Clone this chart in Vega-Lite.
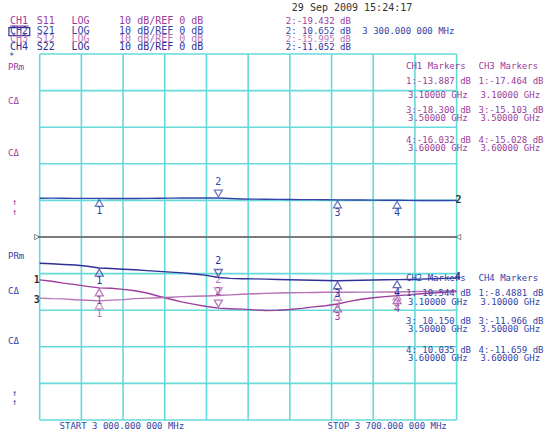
{
  "$schema": "https://vega.github.io/schema/vega-lite/v6.json",
  "width": 544,
  "height": 433,
  "autosize": {"type": "fit", "contains": "padding"},
  "padding": 0,
  "background": "white",
  "config": {
    "view": {"stroke": null},
    "range": {"category": ["#9b3d9b", "#3344a8", "#b573b5", "#2e2e96", "#333333"]},
    "text": {"font": "DejaVu Sans Mono", "align": "left", "baseline": "middle"}
  },
  "datasets": {
    "vgrid": [{"f": 3000, "db": -50, "db2": 50}, {"f": 3070, "db": -50, "db2": 50}, {"f": 3140, "db": -50, "db2": 50}, {"f": 3210, "db": -50, "db2": 50}, {"f": 3280, "db": -50, "db2": 50}, {"f": 3350, "db": -50, "db2": 50}, {"f": 3420, "db": -50, "db2": 50}, {"f": 3490, "db": -50, "db2": 50}, {"f": 3560, "db": -50, "db2": 50}, {"f": 3630, "db": -50, "db2": 50}, {"f": 3700, "db": -50, "db2": 50}],
    "hgrid": [{"db": -50, "f": 3000, "f2": 3700}, {"db": -40, "f": 3000, "f2": 3700}, {"db": -30, "f": 3000, "f2": 3700}, {"db": -20, "f": 3000, "f2": 3700}, {"db": -10, "f": 3000, "f2": 3700}, {"db": 10, "f": 3000, "f2": 3700}, {"db": 20, "f": 3000, "f2": 3700}, {"db": 30, "f": 3000, "f2": 3700}, {"db": 40, "f": 3000, "f2": 3700}, {"db": 50, "f": 3000, "f2": 3700}],
    "tr": [
      {"ch": "CH1", "f": 3000, "db": -11.7}, {"ch": "CH1", "f": 3020, "db": -12.1}, {"ch": "CH1", "f": 3040, "db": -12.6}, {"ch": "CH1", "f": 3060, "db": -13.0}, {"ch": "CH1", "f": 3080, "db": -13.5}, {"ch": "CH1", "f": 3100, "db": -13.887}, {"ch": "CH1", "f": 3120, "db": -14.0}, {"ch": "CH1", "f": 3140, "db": -14.3}, {"ch": "CH1", "f": 3160, "db": -14.7}, {"ch": "CH1", "f": 3180, "db": -15.3}, {"ch": "CH1", "f": 3200, "db": -16.2}, {"ch": "CH1", "f": 3220, "db": -17.0}, {"ch": "CH1", "f": 3240, "db": -17.8}, {"ch": "CH1", "f": 3260, "db": -18.4}, {"ch": "CH1", "f": 3280, "db": -19.0}, {"ch": "CH1", "f": 3300, "db": -19.432}, {"ch": "CH1", "f": 3320, "db": -19.6}, {"ch": "CH1", "f": 3340, "db": -19.7}, {"ch": "CH1", "f": 3360, "db": -19.9}, {"ch": "CH1", "f": 3380, "db": -20.1}, {"ch": "CH1", "f": 3400, "db": -20.0}, {"ch": "CH1", "f": 3420, "db": -19.8}, {"ch": "CH1", "f": 3440, "db": -19.5}, {"ch": "CH1", "f": 3460, "db": -19.1}, {"ch": "CH1", "f": 3480, "db": -18.8}, {"ch": "CH1", "f": 3500, "db": -18.3}, {"ch": "CH1", "f": 3520, "db": -17.6}, {"ch": "CH1", "f": 3540, "db": -17.0}, {"ch": "CH1", "f": 3560, "db": -16.6}, {"ch": "CH1", "f": 3580, "db": -16.3}, {"ch": "CH1", "f": 3600, "db": -16.032}, {"ch": "CH1", "f": 3620, "db": -15.8}, {"ch": "CH1", "f": 3640, "db": -15.5}, {"ch": "CH1", "f": 3660, "db": -15.3}, {"ch": "CH1", "f": 3680, "db": -15.1}, {"ch": "CH1", "f": 3700, "db": -14.9},
      {"ch": "CH2", "f": 3000, "db": 10.6}, {"ch": "CH2", "f": 3020, "db": 10.62}, {"ch": "CH2", "f": 3040, "db": 10.6}, {"ch": "CH2", "f": 3060, "db": 10.55}, {"ch": "CH2", "f": 3080, "db": 10.55}, {"ch": "CH2", "f": 3100, "db": 10.544}, {"ch": "CH2", "f": 3120, "db": 10.52}, {"ch": "CH2", "f": 3140, "db": 10.5}, {"ch": "CH2", "f": 3160, "db": 10.53}, {"ch": "CH2", "f": 3180, "db": 10.56}, {"ch": "CH2", "f": 3200, "db": 10.6}, {"ch": "CH2", "f": 3220, "db": 10.62}, {"ch": "CH2", "f": 3240, "db": 10.64}, {"ch": "CH2", "f": 3260, "db": 10.66}, {"ch": "CH2", "f": 3280, "db": 10.66}, {"ch": "CH2", "f": 3300, "db": 10.652}, {"ch": "CH2", "f": 3320, "db": 10.5}, {"ch": "CH2", "f": 3340, "db": 10.4}, {"ch": "CH2", "f": 3360, "db": 10.35}, {"ch": "CH2", "f": 3380, "db": 10.3}, {"ch": "CH2", "f": 3400, "db": 10.28}, {"ch": "CH2", "f": 3420, "db": 10.25}, {"ch": "CH2", "f": 3440, "db": 10.22}, {"ch": "CH2", "f": 3460, "db": 10.2}, {"ch": "CH2", "f": 3480, "db": 10.18}, {"ch": "CH2", "f": 3500, "db": 10.15}, {"ch": "CH2", "f": 3520, "db": 10.12}, {"ch": "CH2", "f": 3540, "db": 10.1}, {"ch": "CH2", "f": 3560, "db": 10.08}, {"ch": "CH2", "f": 3580, "db": 10.05}, {"ch": "CH2", "f": 3600, "db": 10.035}, {"ch": "CH2", "f": 3620, "db": 10.0}, {"ch": "CH2", "f": 3640, "db": 9.98}, {"ch": "CH2", "f": 3660, "db": 9.97}, {"ch": "CH2", "f": 3680, "db": 9.98}, {"ch": "CH2", "f": 3700, "db": 10.0},
      {"ch": "CH3", "f": 3000, "db": -16.7}, {"ch": "CH3", "f": 3020, "db": -16.85}, {"ch": "CH3", "f": 3040, "db": -16.9}, {"ch": "CH3", "f": 3060, "db": -17.15}, {"ch": "CH3", "f": 3080, "db": -17.3}, {"ch": "CH3", "f": 3100, "db": -17.464}, {"ch": "CH3", "f": 3120, "db": -17.25}, {"ch": "CH3", "f": 3140, "db": -17.1}, {"ch": "CH3", "f": 3160, "db": -16.85}, {"ch": "CH3", "f": 3180, "db": -16.7}, {"ch": "CH3", "f": 3200, "db": -16.6}, {"ch": "CH3", "f": 3220, "db": -16.45}, {"ch": "CH3", "f": 3240, "db": -16.3}, {"ch": "CH3", "f": 3260, "db": -16.2}, {"ch": "CH3", "f": 3280, "db": -16.1}, {"ch": "CH3", "f": 3300, "db": -15.995}, {"ch": "CH3", "f": 3320, "db": -15.8}, {"ch": "CH3", "f": 3340, "db": -15.65}, {"ch": "CH3", "f": 3360, "db": -15.5}, {"ch": "CH3", "f": 3380, "db": -15.4}, {"ch": "CH3", "f": 3400, "db": -15.3}, {"ch": "CH3", "f": 3420, "db": -15.25}, {"ch": "CH3", "f": 3440, "db": -15.2}, {"ch": "CH3", "f": 3460, "db": -15.15}, {"ch": "CH3", "f": 3480, "db": -15.1}, {"ch": "CH3", "f": 3500, "db": -15.103}, {"ch": "CH3", "f": 3520, "db": -15.1}, {"ch": "CH3", "f": 3540, "db": -15.05}, {"ch": "CH3", "f": 3560, "db": -15.05}, {"ch": "CH3", "f": 3580, "db": -15.0}, {"ch": "CH3", "f": 3600, "db": -15.028}, {"ch": "CH3", "f": 3620, "db": -14.95}, {"ch": "CH3", "f": 3640, "db": -14.9}, {"ch": "CH3", "f": 3660, "db": -14.8}, {"ch": "CH3", "f": 3680, "db": -14.75}, {"ch": "CH3", "f": 3700, "db": -14.7},
      {"ch": "CH4", "f": 3000, "db": -7.19}, {"ch": "CH4", "f": 3020, "db": -7.3}, {"ch": "CH4", "f": 3040, "db": -7.5}, {"ch": "CH4", "f": 3060, "db": -7.65}, {"ch": "CH4", "f": 3080, "db": -8.0}, {"ch": "CH4", "f": 3100, "db": -8.4881}, {"ch": "CH4", "f": 3120, "db": -8.6}, {"ch": "CH4", "f": 3140, "db": -8.8}, {"ch": "CH4", "f": 3160, "db": -8.95}, {"ch": "CH4", "f": 3180, "db": -9.2}, {"ch": "CH4", "f": 3200, "db": -9.4}, {"ch": "CH4", "f": 3220, "db": -9.6}, {"ch": "CH4", "f": 3240, "db": -9.8}, {"ch": "CH4", "f": 3260, "db": -10.1}, {"ch": "CH4", "f": 3280, "db": -10.5}, {"ch": "CH4", "f": 3300, "db": -11.052}, {"ch": "CH4", "f": 3320, "db": -11.3}, {"ch": "CH4", "f": 3340, "db": -11.4}, {"ch": "CH4", "f": 3360, "db": -11.45}, {"ch": "CH4", "f": 3380, "db": -11.5}, {"ch": "CH4", "f": 3400, "db": -11.6}, {"ch": "CH4", "f": 3420, "db": -11.7}, {"ch": "CH4", "f": 3440, "db": -11.75}, {"ch": "CH4", "f": 3460, "db": -11.8}, {"ch": "CH4", "f": 3480, "db": -11.9}, {"ch": "CH4", "f": 3500, "db": -11.966}, {"ch": "CH4", "f": 3520, "db": -11.9}, {"ch": "CH4", "f": 3540, "db": -11.8}, {"ch": "CH4", "f": 3560, "db": -11.75}, {"ch": "CH4", "f": 3580, "db": -11.7}, {"ch": "CH4", "f": 3600, "db": -11.659}, {"ch": "CH4", "f": 3620, "db": -11.6}, {"ch": "CH4", "f": 3640, "db": -11.5}, {"ch": "CH4", "f": 3660, "db": -11.4}, {"ch": "CH4", "f": 3680, "db": -11.3}, {"ch": "CH4", "f": 3700, "db": -11.2}
    ],
    "mk": [
      {"ch": "CH1", "m": 1, "f": 3100, "db": -13.887}, {"ch": "CH1", "m": 2, "f": 3300, "db": -19.432}, {"ch": "CH1", "m": 3, "f": 3500, "db": -18.3}, {"ch": "CH1", "m": 4, "f": 3600, "db": -16.032},
      {"ch": "CH2", "m": 1, "f": 3100, "db": 10.544}, {"ch": "CH2", "m": 2, "f": 3300, "db": 10.652}, {"ch": "CH2", "m": 3, "f": 3500, "db": 10.15}, {"ch": "CH2", "m": 4, "f": 3600, "db": 10.035},
      {"ch": "CH3", "m": 1, "f": 3100, "db": -17.464}, {"ch": "CH3", "m": 2, "f": 3300, "db": -15.995}, {"ch": "CH3", "m": 3, "f": 3500, "db": -15.103}, {"ch": "CH3", "m": 4, "f": 3600, "db": -15.028},
      {"ch": "CH4", "m": 1, "f": 3100, "db": -8.4881}, {"ch": "CH4", "m": 2, "f": 3300, "db": -11.052}, {"ch": "CH4", "m": 3, "f": 3500, "db": -11.966}, {"ch": "CH4", "m": 4, "f": 3600, "db": -11.659}
    ],
    "head": [
      {"t": "CH1", "c": "CH1", "f": 2950.0, "db": 58.88}, {"t": "S11", "c": "CH1", "f": 2995.0, "db": 58.88}, {"t": "LOG", "c": "CH1", "f": 3053.3, "db": 58.88}, {"t": "10 dB/REF 0 dB", "c": "CH1", "f": 3133.3, "db": 58.88},
      {"t": "CH2", "c": "CH2", "f": 2950.0, "db": 56.28}, {"t": "S21", "c": "CH2", "f": 2995.0, "db": 56.28}, {"t": "LOG", "c": "CH2", "f": 3053.3, "db": 56.28}, {"t": "10 dB/REF 0 dB", "c": "CH2", "f": 3133.3, "db": 56.28},
      {"t": "CH3", "c": "CH3", "f": 2950.0, "db": 54.1}, {"t": "S12", "c": "CH3", "f": 2995.0, "db": 54.1}, {"t": "LOG", "c": "CH3", "f": 3053.3, "db": 54.1}, {"t": "10 dB/REF 0 dB", "c": "CH3", "f": 3133.3, "db": 54.1},
      {"t": "CH4", "c": "CH4", "f": 2950.0, "db": 51.91}, {"t": "S22", "c": "CH4", "f": 2995.0, "db": 51.91}, {"t": "LOG", "c": "CH4", "f": 3053.3, "db": 51.91}, {"t": "10 dB/REF 0 dB", "c": "CH4", "f": 3133.3, "db": 51.91},
      {"t": "29 Sep 2009  15:24:17", "c": "X", "f": 3423.3, "db": 62.57}
    ],
    "read": [
      {"t": "2:-19.432 dB", "c": "CH1", "f": 3413.3, "db": 58.88},
      {"t": "2: 10.652 dB", "c": "CH2", "f": 3413.3, "db": 56.28},
      {"t": "3 300.000 000 MHz", "c": "CH2", "f": 3541.7, "db": 56.28},
      {"t": "2:-15.995 dB", "c": "CH3", "f": 3413.3, "db": 54.1},
      {"t": "2:-11.052 dB", "c": "CH4", "f": 3413.3, "db": 51.91},
      {"t": "CH1 Markers", "c": "CH1", "f": 3615.0, "db": 46.72},
      {"t": "CH3 Markers", "c": "CH1", "f": 3736.7, "db": 46.72},
      {"t": "1:-13.887 dB", "c": "CH1", "f": 3615.0, "db": 42.62},
      {"t": "1:-17.464 dB", "c": "CH1", "f": 3736.7, "db": 42.62},
      {"t": "3.10000 GHz", "c": "CH1", "f": 3618.3, "db": 38.8},
      {"t": "3.10000 GHz", "c": "CH1", "f": 3740.0, "db": 38.8},
      {"t": "3:-18.300 dB", "c": "CH1", "f": 3615.0, "db": 34.7},
      {"t": "3:-15.103 dB", "c": "CH1", "f": 3736.7, "db": 34.7},
      {"t": "3.50000 GHz", "c": "CH1", "f": 3618.3, "db": 32.51},
      {"t": "3.50000 GHz", "c": "CH1", "f": 3740.0, "db": 32.51},
      {"t": "4:-16.032 dB", "c": "CH1", "f": 3615.0, "db": 26.5},
      {"t": "4:-15.028 dB", "c": "CH1", "f": 3736.7, "db": 26.5},
      {"t": "3.60000 GHz", "c": "CH1", "f": 3618.3, "db": 24.32},
      {"t": "3.60000 GHz", "c": "CH1", "f": 3740.0, "db": 24.32},
      {"t": "CH2 Markers", "c": "CH2", "f": 3615.0, "db": -11.2},
      {"t": "CH4 Markers", "c": "CH2", "f": 3736.7, "db": -11.2},
      {"t": "1: 10.544 dB", "c": "CH2", "f": 3615.0, "db": -15.3},
      {"t": "1:-8.4881 dB", "c": "CH2", "f": 3736.7, "db": -15.3},
      {"t": "3.10000 GHz", "c": "CH2", "f": 3618.3, "db": -17.76},
      {"t": "3.10000 GHz", "c": "CH2", "f": 3740.0, "db": -17.76},
      {"t": "3: 10.150 dB", "c": "CH2", "f": 3615.0, "db": -22.95},
      {"t": "3:-11.966 dB", "c": "CH2", "f": 3736.7, "db": -22.95},
      {"t": "3.50000 GHz", "c": "CH2", "f": 3618.3, "db": -25.14},
      {"t": "3.50000 GHz", "c": "CH2", "f": 3740.0, "db": -25.14},
      {"t": "4: 10.035 dB", "c": "CH2", "f": 3615.0, "db": -30.87},
      {"t": "4:-11.659 dB", "c": "CH2", "f": 3736.7, "db": -30.87},
      {"t": "3.60000 GHz", "c": "CH2", "f": 3618.3, "db": -33.06},
      {"t": "3.60000 GHz", "c": "CH2", "f": 3740.0, "db": -33.06},
      {"t": "START 3 000.000 000 MHz", "c": "CH2", "f": 3033.3, "db": -51.64},
      {"t": "STOP 3 700.000 000 MHz", "c": "CH2", "f": 3483.3, "db": -51.64},
      {"t": "PRm", "c": "CH1", "f": 2946.7, "db": 46.45},
      {"t": "CΔ", "c": "CH1", "f": 2946.7, "db": 37.16},
      {"t": "CΔ", "c": "CH1", "f": 2946.7, "db": 22.95},
      {"t": "↑", "c": "CH1", "f": 2953.3, "db": 9.56},
      {"t": "↑", "c": "CH1", "f": 2953.3, "db": 6.83},
      {"t": "PRm", "c": "CH2", "f": 2946.7, "db": -5.19},
      {"t": "CΔ", "c": "CH2", "f": 2946.7, "db": -14.75},
      {"t": "CΔ", "c": "CH2", "f": 2946.7, "db": -28.42},
      {"t": "↑", "c": "CH2", "f": 2953.3, "db": -42.62},
      {"t": "↑", "c": "CH2", "f": 2953.3, "db": -45.08},
      {"t": "*", "c": "CH2", "f": 2948.3, "db": 49.45}
    ],
    "chlab": [
      {"t": "1", "c": "X", "f": 2990.0, "db": -11.75},
      {"t": "3", "c": "X", "f": 2990.0, "db": -17.21},
      {"t": "2", "c": "X", "f": 3698.3, "db": 10.11},
      {"t": "4", "c": "CH4", "f": 3696.7, "db": -10.93}
    ]
  },
  "encoding": {
    "x": {"field": "f", "type": "quantitative", "scale": {"domain": [2933.333, 3840], "nice": false, "zero": false}, "axis": null},
    "y": {"field": "db", "type": "quantitative", "scale": {"domain": [-53.552, 64.754], "nice": false, "zero": false}, "axis": null}
  },
  "layer": [
    {
      "data": {"name": "vgrid"},
      "mark": {"type": "rule", "color": "#66dada", "strokeWidth": 1.6},
      "encoding": {"y2": {"field": "db2"}}
    },
    {
      "data": {"name": "hgrid"},
      "mark": {"type": "rule", "color": "#66dada", "strokeWidth": 1.6},
      "encoding": {"x2": {"field": "f2"}}
    },
    {
      "data": {"values": [{"db": 0, "f": 2997, "f2": 3700}]},
      "mark": {"type": "rule", "color": "#7a7a7a", "strokeWidth": 2},
      "encoding": {"x2": {"field": "f2"}}
    },
    {
      "data": {"values": [{"f": 2995.5, "db": 0}]},
      "mark": {"type": "point", "shape": "triangle-right", "filled": false, "color": "#555555", "size": 30, "strokeWidth": 1}
    },
    {
      "data": {"values": [{"f": 3703, "db": 0}]},
      "mark": {"type": "point", "shape": "triangle-left", "filled": false, "color": "#555555", "size": 30, "strokeWidth": 1}
    },
    {
      "data": {"name": "tr"},
      "mark": {"type": "line", "strokeWidth": 1.4},
      "encoding": {
        "color": {"field": "ch", "type": "nominal", "scale": {"domain": ["CH1", "CH2", "CH3", "CH4", "X"]}, "legend": null}
      }
    },
    {
      "data": {"name": "mk"},
      "transform": [{"filter": "datum.m != 2"}],
      "mark": {"type": "point", "shape": "triangle-up", "filled": false, "size": 64, "strokeWidth": 1.3, "yOffset": 4.5},
      "encoding": {"color": {"field": "ch", "type": "nominal", "legend": null}}
    },
    {
      "data": {"name": "mk"},
      "transform": [{"filter": "datum.m == 2"}],
      "mark": {"type": "point", "shape": "triangle-down", "filled": false, "size": 64, "strokeWidth": 1.3, "yOffset": -4.5},
      "encoding": {"color": {"field": "ch", "type": "nominal", "legend": null}}
    },
    {
      "data": {"name": "mk"},
      "transform": [{"filter": "datum.m != 2"}],
      "mark": {"type": "text", "align": "center", "fontSize": 10, "yOffset": 13},
      "encoding": {"text": {"field": "m"}, "color": {"field": "ch", "type": "nominal", "legend": null}}
    },
    {
      "data": {"name": "mk"},
      "transform": [{"filter": "datum.m == 2"}],
      "mark": {"type": "text", "align": "center", "fontSize": 10, "yOffset": -16},
      "encoding": {"text": {"field": "m"}, "color": {"field": "ch", "type": "nominal", "legend": null}}
    },
    {
      "data": {"values": [{"f": 2950.0, "f2": 2981.7, "db": 57.65}]},
      "mark": {"type": "rule", "color": "#993399", "strokeWidth": 1},
      "encoding": {"x2": {"field": "f2"}}
    },
    {
      "data": {"values": [{"f": 2948.3, "f2": 2983.3, "db": 57.2, "db2": 55.0}]},
      "mark": {"type": "rect", "filled": false, "stroke": "#333399", "strokeWidth": 1.2},
      "encoding": {"x2": {"field": "f2"}, "y2": {"field": "db2"}}
    },
    {
      "data": {"name": "head"},
      "mark": {"type": "text", "fontSize": 10},
      "encoding": {"text": {"field": "t"}, "color": {"field": "c", "type": "nominal", "legend": null}}
    },
    {
      "data": {"name": "read"},
      "mark": {"type": "text", "fontSize": 9},
      "encoding": {"text": {"field": "t"}, "color": {"field": "c", "type": "nominal", "legend": null}}
    },
    {
      "data": {"name": "chlab"},
      "mark": {"type": "text", "fontSize": 10, "fontWeight": "bold"},
      "encoding": {"text": {"field": "t"}, "color": {"field": "c", "type": "nominal", "legend": null}}
    }
  ]
}
